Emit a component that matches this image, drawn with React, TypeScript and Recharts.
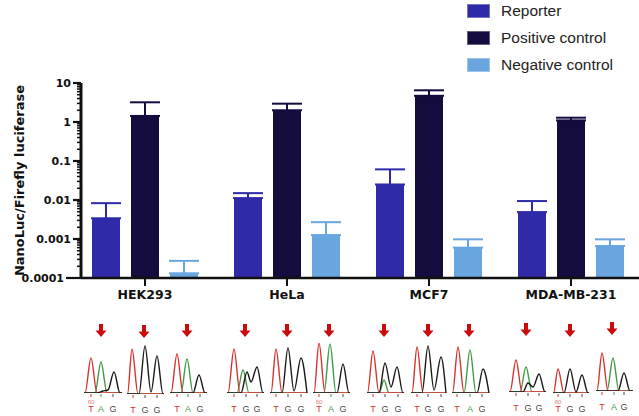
import {
  Bar,
  BarChart,
  ErrorBar,
  Legend,
  Line,
  LineChart,
  ReferenceDot,
  XAxis,
  YAxis,
} from "recharts";

// luciferase ratios, one value per cell line
const groups = ["HEK293", "HeLa", "MCF7", "MDA-MB-231"];
const reporter = [0.0034, 0.0112, 0.025, 0.0049];
const reporterTop = [0.0083, 0.015, 0.061, 0.0094];
const positive = [1.43, 2.0, 4.7, 1.1];
const positiveTop = [3.2, 2.95, 6.5, 1.29];
const negative = [0.000132, 0.00126, 0.0006, 0.00066];
const negativeTop = [0.000275, 0.0027, 0.00098, 0.00098];
const seriesNames = ["Reporter", "Positive control", "Negative control"];

const decades = [0.0001, 0.001, 0.01, 0.1, 1, 10];
const minorSteps = [2, 3, 4, 5, 6, 7, 8, 9];

const COLORS = { reporter: "#2e2aa8", positive: "#140c3e", negative: "#69a6e0" };

// Sanger traces under each bar group: [scan, height]
const chromLeft = [83, 126, 169, 226, 269, 312, 366, 410, 451, 508, 552, 595];
const chromBase = [393, 394, 393, 393, 393, 393, 393, 393, 393, 392, 393, 391];
const chromArrow = [18, 18, 18, 19, 18, 17, 18, 18, 18, 18, 18, 17];
const chromCalls = ["TAG", "TGG", "TAG", "TGG", "TGG", "TAG", "TGG", "TGG", "TAG", "TGG", "TGG", "TAG"];
const chromCallPos = [
  [8, 18, 30], [7, 19, 31], [8, 19, 31], [8, 20, 31], [7, 19, 32], [7, 19, 31],
  [7, 19, 32], [7, 18, 31], [6, 19, 31], [8, 20, 31], [6, 18, 30], [7, 19, 29],
];
const chromMark60 = [true, false, false, false, false, true, false, false, false, false, true, false];

const chromRed = [
  [[1, 0], [2, 0], [8, 35], [14, 0], [39, 0]],
  [[1, 0], [1.5, 0], [6, 45], [12, 0], [38, 0]],
  [[1, 0], [2, 0], [8, 39], [14, 0], [38, 0]],
  [[1, 0], [2, 0], [8, 44], [14, 0], [38, 0]],
  [[1, 0], [2, 0], [7, 44], [13, 0], [38, 0]],
  [[1, 0], [2, 0], [7, 50], [13, 0], [38, 0]],
  [[1, 0], [1.5, 0], [7, 42], [13, 0], [38, 0]],
  [[1, 0], [2, 0], [7, 46], [13, 0], [36, 0]],
  [[1, 0], [1.5, 0], [7, 46], [13, 0], [38, 0]],
  [[1, 0], [2, 0], [8, 32], [14, 0], [38, 0]],
  [[1, 0], [1.5, 0], [6, 24], [12, 0], [37, 0]],
  [[1, 0], [2, 0], [7, 38], [13, 0], [38, 0]],
];
const chromGreen = [
  [[1, 0], [12, 0], [18, 31], [24, 0], [39, 0]],
  [[1, 0], [38, 0]],
  [[1, 0], [12, 0], [18, 34], [24, 0], [38, 0]],
  [[1, 0], [11, 0], [17, 23], [23, 0], [38, 0]],
  [[1, 0], [38, 0]],
  [[1, 0], [12, 0], [18, 49], [24, 0], [38, 0]],
  [[1, 0], [13, 0], [18, 13], [23, 0], [38, 0]],
  [[1, 0], [36, 0]],
  [[1, 0], [13, 0], [19, 43], [25, 0], [38, 0]],
  [[1, 0], [12, 0], [18, 25], [24, 0], [38, 0]],
  [[1, 0], [37, 0]],
  [[1, 0], [12, 0], [18, 33], [24, 0], [38, 0]],
];
const chromBlack = [
  [[1, 0], [14, 0], [20, 2], [25, 3], [31, 21], [37, 0], [39, 0]],
  [[1, 0], [13, 0], [19, 48], [25, 2], [31, 38], [37, 0], [38, 0]],
  [[1, 0], [24, 0], [30, 18], [36, 0], [38, 0]],
  [[1, 0], [15, 0], [21, 21], [25, 11], [31, 26], [37, 0], [38, 0]],
  [[1, 0], [13, 0], [19, 45], [25, 2], [32, 35], [38, 0]],
  [[1, 0], [25, 0], [31, 29], [37, 0], [38, 0]],
  [[1, 0], [13, 0], [19, 30], [25, 6], [31, 26], [37, 0], [38, 0]],
  [[1, 0], [12, 0], [18, 47], [24, 3], [31, 36], [36, 0]],
  [[1, 0], [26, 0], [32, 24], [38, 0]],
  [[1, 0], [15, 0], [20, 9], [25, 5], [31, 18], [37, 0], [38, 0]],
  [[1, 0], [12, 0], [18, 24], [24, 1], [30, 18], [36, 0], [37, 0]],
  [[1, 0], [23, 0], [29, 18], [35, 0], [38, 0]],
];

const BASE_COLORS: Record<string, string> = { T: "#d8322c", A: "#3f9a45", G: "#4a4a4a" };

const data = groups.map((g, i) => ({
  group: g,
  reporter: reporter[i],
  reporterErr: [0, reporterTop[i] - reporter[i]],
  positive: positive[i],
  positiveErr: [0, positiveTop[i] - positive[i]],
  negative: negative[i],
  negativeErr: [0, negativeTop[i] - negative[i]],
}));

const yTicks = [
  ...decades,
  ...decades.slice(0, -1).flatMap((d) => minorSteps.map((m) => d * m)),
];

const AXIS_FONT = "'DejaVu Sans', sans-serif";

function YTick({ x, y, payload }: any) {
  const v = payload.value;
  const major = decades.includes(v);
  const len = v === decades[0] ? 15 : major ? 8 : 4;
  return (
    <g>
      <line x1={x - len} x2={x} y1={y} y2={y} stroke="#111" strokeWidth={major ? 2.2 : 1.5} />
      {major && (
        <text
          x={x - len - 2}
          y={y}
          dy="0.36em"
          textAnchor="end"
          fontFamily={AXIS_FONT}
          fontWeight="bold"
          fontSize={11}
          fill="#111"
        >
          {String(v)}
        </text>
      )}
    </g>
  );
}

function renderLegend({ payload }: any) {
  const items = [...(payload || [])].sort(
    (a: any, b: any) => seriesNames.indexOf(a.value) - seriesNames.indexOf(b.value)
  );
  return (
    <div style={{ fontFamily: "'Liberation Sans', Arial, sans-serif" }}>
      {items.map((p: any) => (
        <div key={p.value} style={{ display: "flex", alignItems: "center", height: 27 }}>
          <span
            style={{
              width: 23,
              height: 14.5,
              background: p.color,
              boxSizing: "border-box",
              border: "1px solid rgba(255,255,255,0.35)",
            }}
          />
          <span style={{ marginLeft: 11, fontSize: 15.5, color: "#222" }}>{p.value}</span>
        </div>
      ))}
    </div>
  );
}

function Arrow({ cx, cy }: any) {
  const top = cy - 19;
  const tip = cy - 6;
  return (
    <path
      d={`M${cx - 2} ${top} L${cx + 2} ${top} L${cx + 2} ${tip - 6.5} L${cx + 5.5} ${tip - 6.5} L${cx} ${tip} L${cx - 5.5} ${tip - 6.5} L${cx - 2} ${tip - 6.5} Z`}
      fill="#cc0a0a"
    />
  );
}

function Chromatogram({ i }: { i: number }) {
  const calls = chromCalls[i];
  const pos = chromCallPos[i];
  const toPts = (arr: number[][]) => arr.map(([x, y]) => ({ x, y }));
  const CallTick = ({ x, y, payload }: any) => {
    const k = pos.indexOf(payload.value);
    const b = calls[k];
    const c = BASE_COLORS[b];
    return (
      <g>
        <line x1={x} x2={x} y1={y + 1} y2={y + 4} stroke={c} strokeWidth={1} />
        {chromMark60[i] && k === 0 && (
          <text x={x} y={y + 11} textAnchor="middle" fontSize={6} fill="#e07a7a" fontFamily="Arial, sans-serif">
            60
          </text>
        )}
        <text x={x} y={y + 18.5} textAnchor="middle" fontSize={9} fill={c} fontFamily="Arial, sans-serif">
          {b}
        </text>
      </g>
    );
  };
  return (
    <div style={{ position: "absolute", left: chromLeft[i], top: chromBase[i] - 75 }}>
      <LineChart width={40} height={97} margin={{ top: 25, right: 0, bottom: 0, left: 0 }}>
        <XAxis
          type="number"
          dataKey="x"
          domain={[0, 40]}
          ticks={pos}
          interval={0}
          tick={<CallTick />}
          tickSize={0}
          tickMargin={0}
          axisLine={false}
          tickLine={false}
          height={22}
          allowDataOverflow
        />
        <YAxis hide domain={[0, 50]} allowDataOverflow />
        <Line data={toPts(chromGreen[i])} dataKey="y" type="monotone" stroke="#3f9a45" strokeWidth={1.4} dot={false} isAnimationActive={false} />
        <Line data={toPts(chromRed[i])} dataKey="y" type="monotone" stroke="#d8322c" strokeWidth={1.4} dot={false} isAnimationActive={false} />
        <Line data={toPts(chromBlack[i])} dataKey="y" type="monotone" stroke="#1a1a1a" strokeWidth={1.4} dot={false} isAnimationActive={false} />
        <ReferenceDot x={chromArrow[i]} y={50} shape={<Arrow />} ifOverflow="visible" />
      </LineChart>
    </div>
  );
}

export default function App() {
  return (
    <div
      style={{
        position: "absolute",
        left: 0,
        top: 0,
        width: 639,
        height: 416,
        overflow: "hidden",
        background: "#fff",
      }}
    >
      <BarChart
        width={639}
        height={320}
        data={data}
        margin={{ top: 83, right: 0, bottom: 12, left: 0 }}
        barSize={28}
        barGap={11}
      >
        <XAxis
          dataKey="group"
          padding={{ left: -7, right: -3 }}
          height={30}
          tickSize={8}
          tickMargin={4}
          axisLine={{ stroke: "#111", strokeWidth: 2.5 }}
          tickLine={{ stroke: "#111", strokeWidth: 2 }}
          tick={{ fontFamily: AXIS_FONT, fontWeight: "bold", fontSize: 12.5, fill: "#111" }}
          interval={0}
        />
        <YAxis
          type="number"
          scale="log"
          domain={[0.0001, 10]}
          ticks={yTicks}
          interval={0}
          allowDataOverflow
          width={81}
          tickSize={0}
          tickMargin={0}
          tickLine={false}
          axisLine={{ stroke: "#111", strokeWidth: 3 }}
          tick={<YTick />}
          label={{
            content: ({ viewBox }: any) => {
              const cy = viewBox.y + viewBox.height / 2;
              return (
                <text
                  x={23.5}
                  y={cy}
                  transform={`rotate(-90 23.5 ${cy})`}
                  textAnchor="middle"
                  fontFamily={AXIS_FONT}
                  fontWeight="bold"
                  fontSize={13}
                  fill="#111"
                >
                  NanoLuc/Firefly luciferase
                </text>
              );
            },
          }}
        />
        <Legend
          layout="vertical"
          align="center"
          verticalAlign="middle"
          wrapperStyle={{ left: 467, top: -2.5, width: 170 }}
          content={renderLegend}
        />
        <Bar dataKey="reporter" name="Reporter" fill={COLORS.reporter} isAnimationActive={false}>
          <ErrorBar dataKey="reporterErr" direction="y" width={15} strokeWidth={2} stroke={COLORS.reporter} />
        </Bar>
        <Bar dataKey="positive" name="Positive control" fill={COLORS.positive} isAnimationActive={false}>
          <ErrorBar dataKey="positiveErr" direction="y" width={15} strokeWidth={2} stroke={COLORS.positive} />
        </Bar>
        <Bar dataKey="negative" name="Negative control" fill={COLORS.negative} isAnimationActive={false}>
          <ErrorBar dataKey="negativeErr" direction="y" width={15} strokeWidth={2} stroke={COLORS.negative} />
        </Bar>
      </BarChart>
      {chromLeft.map((_, i) => (
        <Chromatogram key={i} i={i} />
      ))}
    </div>
  );
}
